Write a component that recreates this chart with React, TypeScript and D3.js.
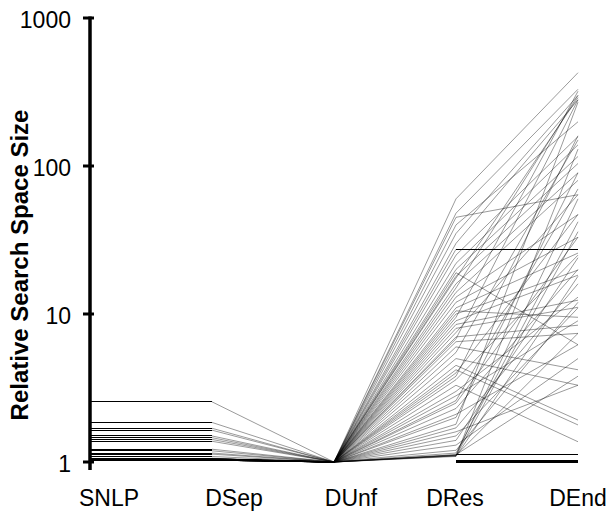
import React from "react";
import * as d3 from "d3";

const categories = ["SNLP", "DSep", "DUnf", "DRes", "DEnd"];
const yTickValues = [1, 10, 100, 1000];

const snlpValues: (number | null)[] = [
  2.55, 1.85, 1.69, 1.64, 1.5, 1.46, 1.42, 1.38, 1.22, 1.19,
  1.15, 1.13, 1.09, 1.06, 1.05, 1.05, 1.05, 1.04, 1.04, 1.04,
  1.04, 1.04, 1.03, 1.03, 1.03, 1.03, 1.03, 1.03, 1.04, 1.05,
  1.03, 1.04, 1.05, 1.03, 1.04, 1.03, 1.05, 1.04, 1.03, 1.04,
  1.03, 1.05, 1.04, 1.03, 1.04, 1.03, 1.05, 1.04, 1.03, 1.04,
  1.03, 1.04, 1.05, 1.03, 1.04, 1.03, 1.04, 1.05, 1.03, 1.04,
  null, null, null,
];
const dsepValues: (number | null)[] = [
  2.55, 1.85, 1.69, 1.64, 1.5, 1.46, 1.42, 1.38, 1.22, 1.19,
  1.15, 1.13, 1.09, 1.06, 1.05, 1.05, 1.05, 1.04, 1.04, 1.04,
  1.04, 1.04, 1.03, 1.03, 1.03, 1.03, 1.03, 1.03, 1.04, 1.05,
  1.03, 1.04, 1.05, 1.03, 1.04, 1.03, 1.05, 1.04, 1.03, 1.04,
  1.03, 1.05, 1.04, 1.03, 1.04, 1.03, 1.05, 1.04, 1.03, 1.04,
  1.03, 1.04, 1.05, 1.03, 1.04, 1.03, 1.04, 1.05, 1.03, 1.04,
  null, null, null,
];
const dunfValues: (number | null)[] = [
  1, 1, 1, 1, 1, 1, 1, 1, 1, 1,
  1, 1, 1, 1, 1, 1, 1, 1, 1, 1,
  1, 1, 1, 1, 1, 1, 1, 1, 1, 1,
  1, 1, 1, 1, 1, 1, 1, 1, 1, 1,
  1, 1, 1, 1, 1, 1, 1, 1, 1, 1,
  1, 1, 1, 1, 1, 1, 1, 1, 1, 1,
  null, null, null,
];
const dresValues: (number | null)[] = [
  60, 48, 35, 27.4, 17.5, 45, 40, 30, 25, 22,
  20, 19, 18, 16, 15, 14, 13, 12, 11, 10,
  9.5, 9, 8.5, 8, 7.5, 7, 6.5, 6, 5.5, 5,
  4.5, 4.2, 4, 3.6, 3.3, 3, 2.8, 2.5, 2.3, 2.1,
  2, 1.8, 1.7, 1.6, 1.5, 1.4, 1.3, 1.2, 1.15, 1.12,
  1.11, 1.11, 1.1, 1.12, 1.1, 1.09, 3.8, 6.8, 10.5, 2.6,
  1.0, 1.015, 1.03,
];
const dendValues: (number | null)[] = [
  427, 330, 300, 27.4, 290, 64, 199, 280, 158, 139,
  116, 6.2, 104, 90, 300, 80, 47, 33, 25.8, 19.8,
  320, 18.3, 12.4, 11.1, 64, 8.4, 7.4, 4.2, 150, 3.3,
  1.92, 1.78, 47, 25, 1.37, 13, 9, 33, 20, 6.2,
  90, 270, 16, 3.3, 11, 24, 5, 12, 42, 1.12,
  60, 7.4, 36, 3.8, 130, 18, 160, 280, 9.5, 70,
  1.0, 1.015, 1.03,
];

const seriesByCategory = [snlpValues, dsepValues, dunfValues, dresValues, dendValues];

const WIDTH = 608;
const HEIGHT = 514;
const labelDx = [19, 22, 17, -1, 0];
const FONT = "'Liberation Sans', Arial, Helvetica, sans-serif";

export default function App() {
  const x = d3.scalePoint<string>().domain(categories).range([90, 578]);
  const y = d3.scaleLog().domain([1, 1000]).range([462, 18]);

  const nLines = snlpValues.length;
  const segments: React.ReactElement[] = [];
  for (let li = 0; li < nLines; li++) {
    for (let ci = 0; ci < categories.length - 1; ci++) {
      const a = seriesByCategory[ci][li];
      const b = seriesByCategory[ci + 1][li];
      if (a == null || b == null) continue;
      const x1 = x(categories[ci]) as number;
      const x2 = x(categories[ci + 1]) as number;
      const flat = a === b;
      segments.push(
        <line
          key={`${li}-${ci}`}
          x1={x1}
          x2={x2}
          y1={y(a)}
          y2={y(b)}
          stroke="#000"
          strokeWidth={flat ? 1 : 0.4}
          shapeRendering={flat ? "crispEdges" : "auto"}
        />
      );
    }
  }

  const axisX = x(categories[0]) as number;

  return (
    <svg
      width={WIDTH}
      height={HEIGHT}
      style={{ position: "absolute", left: 0, top: 0, background: "#fff" }}
      fontFamily={FONT}
    >
      <rect x={0} y={0} width={WIDTH} height={HEIGHT} fill="#fff" />
      <g>{segments}</g>
      <line x1={axisX} x2={axisX} y1={y(1000) - 1.5} y2={470} stroke="#000" strokeWidth={3.5} />
      {yTickValues.map((t) => (
        <g key={t}>
          <line x1={83} x2={94} y1={y(t)} y2={y(t)} stroke="#000" strokeWidth={3} />
          <text x={71} y={y(t) + 9.5} textAnchor="end" fontSize={23} fill="#000">
            {String(t)}
          </text>
        </g>
      ))}
      {categories.map((c, i) => (
        <text
          key={c}
          x={(x(c) as number) + labelDx[i]}
          y={506}
          textAnchor="middle"
          fontSize={23}
          fill="#000"
        >
          {c}
        </text>
      ))}
      <text
        transform={`translate(28,265) rotate(-90)`}
        textAnchor="middle"
        fontSize={24}
        fontWeight="bold"
        fill="#000"
      >
        Relative Search Space Size
      </text>
    </svg>
  );
}
